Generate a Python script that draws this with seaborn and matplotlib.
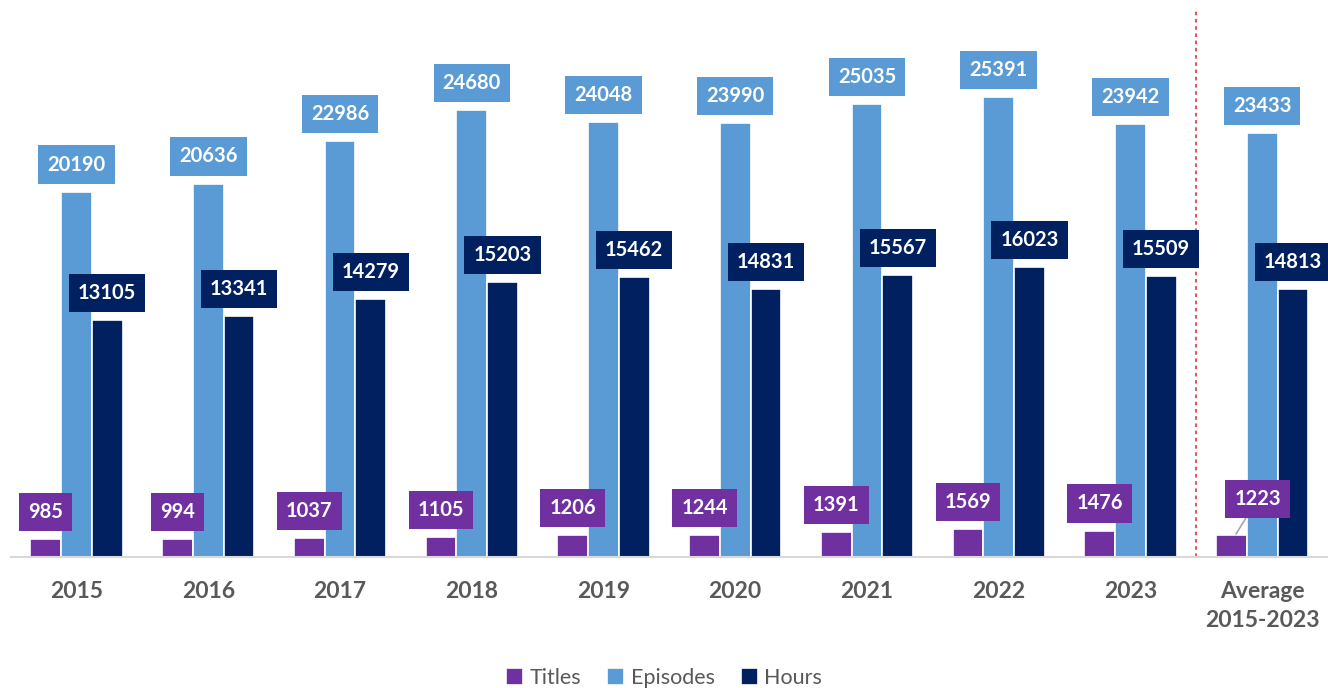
import matplotlib
matplotlib.use("Agg")
import matplotlib.pyplot as plt
import seaborn as sns
import pandas as pd

categories = ["2015", "2016", "2017", "2018", "2019", "2020", "2021", "2022", "2023", "Average\n2015-2023"]
titles = [985, 994, 1037, 1105, 1206, 1244, 1391, 1569, 1476, 1223]
episodes = [20190, 20636, 22986, 24680, 24048, 23990, 25035, 25391, 23942, 23433]
hours = [13105, 13341, 14279, 15203, 15462, 14831, 15567, 16023, 15509, 14813]
series_names = ["Titles", "Episodes", "Hours"]
colors = ["#7030A0", "#5B9BD5", "#002060"]

df = pd.DataFrame({
    "category": categories * 3,
    "series": [s for s in series_names for _ in categories],
    "value": titles + episodes + hours,
})

sns.set_theme(style="white")
plt.rcParams["font.family"] = ["Lato", "DejaVu Sans"]

fig = plt.figure(figsize=(13.28, 6.88), dpi=100)
ax = fig.add_axes([0.008, 0.19, 0.992, 0.81])

sns.barplot(data=df, x="category", y="value", hue="series", order=categories,
            hue_order=series_names, palette=colors, width=0.7,
            edgecolor="white", linewidth=1.2, saturation=1, ax=ax, legend=True)

ax.set_ylim(0, 30770)
ax.set_xlim(-0.5, len(categories) - 0.5)
ax.set_xlabel("")
ax.set_ylabel("")
ax.set_yticks([])
for s in ["top", "left", "right"]:
    ax.spines[s].set_visible(False)
ax.spines["bottom"].set_color("#D9D9D9")
ax.spines["bottom"].set_linewidth(1.5)
ax.tick_params(axis="x", length=0, pad=17)
for lbl in ax.get_xticklabels():
    lbl.set_fontsize(16.5)
    lbl.set_fontweight("bold")
    lbl.set_color("#595959")
    lbl.set_linespacing(1.45)

# data labels
last = len(categories) - 1
for ci, cont in enumerate(ax.containers):
    col = colors[ci]
    for bi, bar in enumerate(cont):
        xc = bar.get_x() + bar.get_width() / 2
        h = bar.get_height()
        if ci == 0 and bi == last:
            ax.annotate(f"{int(h)}", xy=(xc + 0.03, h), xytext=(16, 26), textcoords="offset points",
                        ha="center", va="center", fontsize=14.5, fontweight="bold", color="white",
                        bbox=dict(boxstyle="square,pad=0.45", fc=col, ec="none"),
                        arrowprops=dict(arrowstyle="-", color="#A6A6A6", lw=1.2,
                                        shrinkA=0, shrinkB=1))
        else:
            ax.annotate(f"{int(h)}", xy=(xc, h), xytext=(0, 19.5), textcoords="offset points",
                        ha="center", va="center", fontsize=14.5, fontweight="bold", color="white",
                        bbox=dict(boxstyle="square,pad=0.45", fc=col, ec="none"))

# separator line
ax.axvline(len(categories) - 1.5, ymin=0, ymax=0.985, color="#E04848", lw=1.3,
           linestyle=(0, (2, 2)))

# legend
leg = ax.get_legend()
handles = leg.legend_handles
leg.remove()
fig.legend(handles, series_names, loc="lower center", bbox_to_anchor=(0.5, -0.028), ncol=3,
           frameon=False, fontsize=15.5, handlelength=0.8, handleheight=0.8,
           handletextpad=0.3, columnspacing=1.2, labelcolor="#595959")

fig.savefig("out.png", dpi=100)
